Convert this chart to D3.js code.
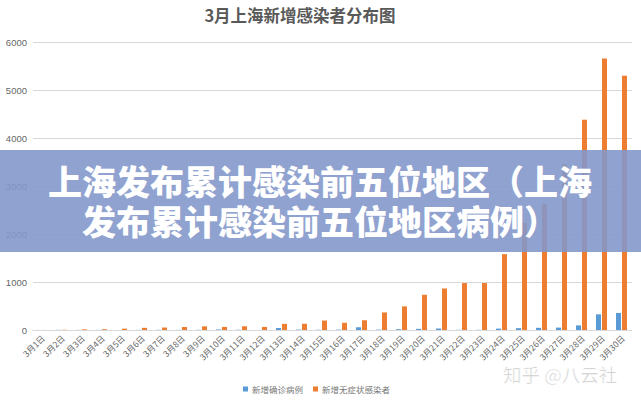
<!DOCTYPE html>
<html>
<head>
<meta charset="utf-8">
<script src="https://cdn.jsdelivr.net/npm/d3@7"></script>
<style>
  html, body { margin: 0; padding: 0; background: #fff; }
  svg { display: block; }
</style>
</head>
<body>
<div id="chart"></div>
<script>
// 3月上海每日新增
const days = d3.range(1, 31).map(d => '3月' + d + '日')
const confirmed = [1, 3, 2, 3, 0, 3, 4, 3, 4, 11, 5, 1, 41, 9, 5, 8, 57, 8, 17, 24, 31, 4, 4, 29, 38, 45, 50, 96, 326, 355]
const asymptomatic = [1, 5, 14, 16, 28, 45, 51, 62, 76, 64, 78, 64, 128, 130, 197, 150, 203, 366, 492, 734, 865, 977, 979, 1580, 2231, 2631, 3450, 4381, 5656, 5298]
const yTicks = [0, 1000, 2000, 3000, 4000, 5000, 6000]
const seriesNames = ['新增确诊病例', '新增无症状感染者']
const colors = ['#5b9bd5', '#ed7d31']

const W = 641, H = 402
const cjk = '"Noto Sans CJK SC", "Noto Sans", sans-serif'

const svg = d3.select('#chart').append('svg')
  .attr('width', W).attr('height', H)

const x = d3.scaleBand().domain(days).range([31.5, 631.5]).padding(0)
const x1 = d3.scaleBand().domain([0, 1]).range([0, x.bandwidth()])
  .paddingInner(1 / 6).paddingOuter(0.75)
const y = d3.scaleLinear().domain([0, 6000]).range([330, 42])

// title
svg.append('text')
  .attr('x', 300).attr('y', 22)
  .attr('text-anchor', 'middle')
  .style('font-family', cjk).style('font-size', '16.5px').style('font-weight', 600)
  .attr('fill', '#595959')
  .text('3月上海新增感染者分布图')

// y axis with grid
svg.append('g')
  .attr('transform', 'translate(33,0)')
  .call(d3.axisLeft(y).tickValues(yTicks).tickFormat(d3.format('d')).tickSize(-599).tickPadding(6))
  .call(g => g.select('.domain').remove())
  .call(g => g.selectAll('line').attr('stroke', '#d9d9d9'))
  .call(g => g.selectAll('text')
    .attr('fill', '#666').style('font-family', '"Liberation Sans", sans-serif').style('font-size', '9.5px'))

// bars
const data = days.map((d, i) => ({ day: d, vals: [confirmed[i], asymptomatic[i]] }))
const groups = svg.append('g').selectAll('g').data(data).join('g')
  .attr('transform', d => 'translate(' + x(d.day) + ',0)')
groups.selectAll('rect').data(d => d.vals).join('rect')
  .attr('x', (v, j) => x1(j))
  .attr('width', x1.bandwidth())
  .attr('y', v => y(v))
  .attr('height', v => 330 - y(v))
  .attr('fill', (v, j) => colors[j])

// x axis
svg.append('g')
  .attr('transform', 'translate(0,330)')
  .call(d3.axisBottom(x).tickSize(0).tickPadding(0))
  .call(g => g.select('.domain').attr('stroke', '#d9d9d9'))
  .call(g => g.selectAll('text')
    .attr('fill', '#666').style('font-family', cjk).style('font-size', '8.5px')
    .attr('text-anchor', 'end').attr('dy', null)
    .attr('transform', 'translate(4,9) rotate(-45)'))

// legend
const legend = svg.append('g').attr('transform', 'translate(243,0)')
const lx = [0, 70]
seriesNames.forEach((name, i) => {
  legend.append('rect').attr('x', lx[i]).attr('y', 386.5).attr('width', 5).attr('height', 5).attr('fill', colors[i])
  legend.append('text').attr('x', lx[i] + 9).attr('y', 392.5)
    .style('font-family', cjk).style('font-size', '8.5px').attr('fill', '#777')
    .text(name)
})

// banner overlay
svg.append('rect')
  .attr('x', 0).attr('y', 150).attr('width', W).attr('height', 102)
  .attr('fill', 'rgb(132,152,202)').attr('opacity', 0.9)
const bannerLines = ['上海发布累计感染前五位地区（上海', '发布累计感染前五位地区病例）']
svg.append('g').selectAll('text').data(bannerLines).join('text')
  .attr('x', 320)
  .attr('y', (d, i) => 180 + i * 40)
  .attr('text-anchor', 'middle').attr('dominant-baseline', 'central')
  .style('font-family', cjk).style('font-size', '34px').style('font-weight', 900)
  .attr('fill', '#fff')
  .text(d => d)

// watermark
svg.append('text')
  .attr('x', 503).attr('y', 382)
  .style('font-family', cjk).style('font-size', '18.5px')
  .attr('fill', '#c4c4c4').attr('stroke', '#fff').attr('stroke-width', 0.6)
  .text('知乎 @八云社')
</script>
</body>
</html>
